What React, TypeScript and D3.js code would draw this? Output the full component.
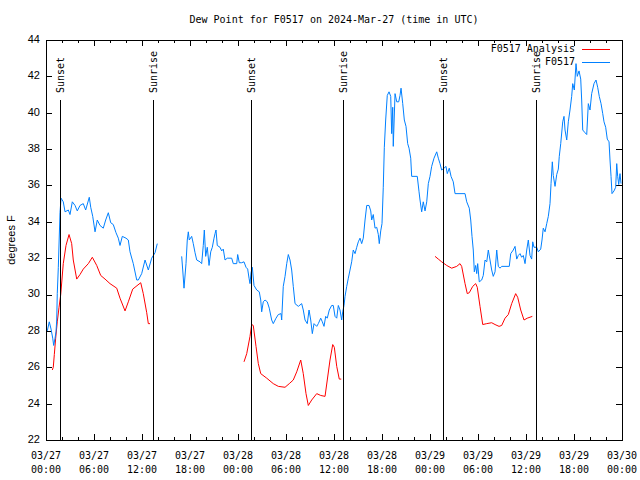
import React, { useEffect, useRef } from "react";
import * as d3 from "d3";

const chartTitle = "Dew Point for F0517 on 2024-Mar-27 (time in UTC)";
const yLabel = "degrees F";
const startTime = Date.UTC(2024, 2, 27, 0, 0);
const endTime = Date.UTC(2024, 2, 30, 0, 0);

const yTicks = [22, 24, 26, 28, 30, 32, 34, 36, 38, 40, 42, 44];

// [hours since 03/27 00:00 UTC, dew point in F]; null = missing data (breaks the line)
const observed: [number, number | null][] = [
  [0.16, 28.0], [0.41, 28.5], [0.63, 28.1], [0.84, 27.6], [0.96, 27.2], [1.13, 27.6],
  [1.25, 27.95], [1.34, 28.6], [1.41, 30.05], [1.54, 31.5], [1.75, 34.5], [1.88, 35.3],
  [2.16, 35.1], [2.38, 34.55], [2.79, 34.65], [3.0, 34.4], [3.29, 35.1], [3.63, 34.9],
  [3.91, 34.6], [4.25, 34.9], [4.66, 35.0], [4.96, 34.65], [5.41, 35.35], [5.59, 34.8],
  [5.84, 34.3], [6.13, 33.45], [6.41, 34.1], [6.75, 33.8], [7.16, 33.65], [7.46, 34.1],
  [7.79, 34.5], [8.09, 33.95], [8.41, 33.85], [8.75, 33.4], [9.04, 33.1], [9.25, 32.7],
  [9.54, 33.2], [10.0, 33.1], [10.29, 33.0], [10.5, 32.35], [10.91, 31.7], [11.34, 30.8],
  [11.54, 30.8], [11.96, 31.15], [12.38, 31.9], [12.79, 31.35], [13.21, 32.0], [13.63, 32.3],
  [13.91, 32.8], [15.0, null],
  [16.96, 32.1], [17.09, 31.35], [17.25, 30.35], [17.5, 31.7], [17.66, 33.0], [17.79, 33.45],
  [17.91, 33.0], [18.21, 33.2], [18.41, 32.8], [18.63, 32.3], [18.84, 31.9], [19.25, 31.8],
  [19.46, 31.7], [19.66, 32.7], [19.79, 33.55], [19.96, 32.1], [20.16, 32.6], [20.38, 31.6],
  [20.59, 32.35], [20.79, 32.6], [21.0, 33.1], [21.13, 33.35], [21.25, 33.55], [21.41, 32.7],
  [21.75, 32.6], [21.96, 32.4], [22.16, 32.5], [22.38, 31.9], [22.66, 32.0], [23.21, 32.0],
  [23.41, 31.7], [23.84, 31.7], [23.96, 32.2], [24.16, 31.75], [24.46, 31.75], [24.75, 31.8],
  [25.0, 31.5], [25.21, 31.4], [25.38, 30.9], [25.5, 30.6], [25.63, 31.2], [25.79, 31.5],
  [26.0, 30.5], [26.34, 30.25], [26.66, 30.15], [26.84, 29.7], [26.96, 29.05], [27.16, 29.6],
  [27.38, 29.7], [27.66, 29.6], [27.91, 29.25], [28.21, 28.6], [28.41, 28.4], [28.75, 28.7],
  [29.04, 28.9], [29.38, 28.95], [29.46, 28.6], [29.66, 30.45], [29.88, 31.0], [30.09, 31.7],
  [30.29, 32.2], [30.5, 31.9], [30.71, 31.35], [30.91, 30.45], [31.13, 29.5], [31.54, 29.35],
  [31.96, 29.5], [32.16, 29.15], [32.38, 28.6], [32.66, 28.4], [32.88, 29.15], [33.09, 28.6],
  [33.29, 27.85], [33.5, 28.4], [33.84, 28.25], [34.04, 28.4], [34.34, 28.7], [34.54, 28.5],
  [34.75, 28.25], [34.96, 28.8], [35.16, 28.7], [35.41, 29.15], [35.71, 29.4], [35.91, 29.4],
  [36.13, 28.8], [36.34, 28.7], [36.54, 29.4], [36.75, 29.15], [36.96, 28.6], [37.09, 29.05],
  [37.25, 29.4], [37.38, 29.9], [37.59, 30.45], [37.79, 30.9], [38.0, 31.35], [38.21, 31.8],
  [38.41, 32.45], [38.63, 32.25], [38.84, 32.6], [39.04, 32.9], [39.25, 33.1], [39.46, 32.8],
  [39.66, 33.1], [39.88, 34.1], [40.09, 34.9], [40.38, 34.9], [40.59, 34.6], [40.71, 34.1],
  [40.91, 34.4], [41.13, 33.65], [41.34, 33.7], [41.54, 33.3], [41.66, 32.8], [41.84, 33.5],
  [42.0, 33.9], [42.16, 35.9], [42.29, 38.1], [42.46, 39.6], [42.66, 40.95], [42.88, 41.15],
  [43.09, 40.9], [43.21, 38.85], [43.34, 40.3], [43.41, 38.15], [43.63, 41.05], [43.84, 40.6],
  [44.09, 40.6], [44.25, 40.95], [44.38, 41.35], [44.59, 40.5], [44.79, 39.6], [45.0, 39.25],
  [45.21, 38.3], [45.38, 38.05], [45.59, 37.5], [45.71, 36.5], [46.41, 36.5], [46.63, 35.65],
  [46.75, 35.2], [46.96, 34.55], [47.16, 35.1], [47.38, 34.6], [47.59, 35.1], [47.79, 36.1],
  [48.0, 36.5], [48.21, 37.05], [48.5, 37.5], [48.84, 37.85], [49.04, 37.5], [49.25, 37.2],
  [49.46, 36.85], [49.75, 36.95], [50.0, 37.05], [50.16, 36.65], [50.41, 36.95], [50.63, 36.5],
  [50.91, 36.2], [51.13, 35.55], [52.38, 35.55], [52.59, 35.1], [52.91, 34.75], [53.09, 34.1],
  [53.25, 33.2], [53.41, 32.45], [53.54, 31.25], [53.71, 31.6], [53.84, 31.15], [53.96, 31.7],
  [54.16, 30.7], [54.46, 30.8], [54.66, 31.05], [54.88, 31.9], [55.09, 31.8], [55.29, 32.45],
  [55.5, 31.9], [55.71, 31.35], [55.91, 31.0], [56.13, 31.25], [56.34, 32.45], [56.54, 31.55],
  [56.75, 31.45], [56.96, 31.55], [57.91, 31.55], [58.09, 32.25], [58.41, 32.45], [58.63, 32.65],
  [58.84, 31.95], [59.04, 32.15], [59.25, 32.25], [59.46, 32.05], [59.66, 32.15], [59.88, 31.7],
  [60.09, 32.45], [60.29, 33.0], [60.5, 32.15], [60.71, 31.95], [60.84, 32.9], [61.0, 32.6],
  [61.34, 32.6], [61.54, 32.35], [61.84, 32.5], [62.0, 33.0], [62.16, 33.65], [62.38, 33.45],
  [62.59, 33.9], [62.79, 34.3], [63.0, 35.0], [63.13, 36.1], [63.29, 37.3], [63.41, 36.55],
  [63.63, 35.95], [63.84, 36.6], [64.04, 36.9], [64.16, 37.6], [64.34, 38.3], [64.59, 39.5],
  [64.75, 39.8], [64.88, 39.05], [65.09, 38.5], [65.29, 39.5], [65.5, 40.15], [65.71, 40.9],
  [65.84, 41.6], [66.04, 41.25], [66.25, 42.7], [66.41, 42.0], [66.63, 42.3], [66.84, 41.85],
  [66.96, 40.7], [67.09, 39.05], [67.38, 38.9], [67.59, 38.8], [67.79, 40.5], [68.0, 40.15],
  [68.21, 41.05], [68.5, 41.6], [68.75, 41.8], [68.96, 41.4], [69.16, 40.9], [69.38, 40.5],
  [69.59, 39.95], [69.75, 39.5], [69.96, 39.2], [70.16, 38.55], [70.38, 38.4], [70.5, 37.4],
  [70.63, 36.5], [70.75, 35.55], [71.0, 35.7], [71.21, 35.9], [71.34, 37.2], [71.46, 36.5],
  [71.59, 36.05], [71.75, 36.65], [71.88, 36.1],
];

const analysis: [number, number | null][] = [
  [0.79, 25.85], [0.91, 26.0], [1.04, 26.7], [1.21, 27.6], [1.41, 28.5], [1.63, 29.3],
  [1.84, 30.0], [2.16, 31.7], [2.5, 32.7], [2.88, 33.3], [3.21, 32.8], [3.41, 31.9],
  [3.84, 30.85], [4.25, 31.1], [4.66, 31.4], [5.29, 31.7], [5.79, 32.05], [6.34, 31.6],
  [6.84, 31.05], [7.38, 30.85], [8.0, 30.6], [8.84, 30.35], [9.25, 29.8], [9.88, 29.1],
  [10.29, 29.6], [10.84, 30.3], [11.84, 30.65], [12.16, 30.05], [12.59, 29.0], [12.79, 28.4],
  [13.0, 28.4], [18.0, null],
  [24.75, 26.3], [25.09, 26.75], [25.5, 27.7], [25.71, 28.35], [25.91, 28.3], [26.25, 27.15],
  [26.54, 26.2], [26.84, 25.65], [27.59, 25.4], [28.41, 25.1], [29.04, 24.95], [29.88, 24.9],
  [30.41, 25.1], [30.91, 25.3], [31.34, 25.75], [31.84, 26.4], [32.16, 25.65], [32.5, 24.55],
  [32.79, 23.9], [33.21, 24.2], [33.84, 24.55], [34.34, 24.45], [34.88, 24.4], [35.16, 25.3],
  [35.5, 26.4], [35.84, 27.25], [36.04, 27.1], [36.34, 26.05], [36.66, 25.35], [36.91, 25.35],
  [42.0, null],
  [48.63, 32.1], [49.04, 31.95], [49.46, 31.8], [50.09, 31.6], [50.71, 31.45], [51.34, 31.55],
  [51.75, 31.7], [51.96, 31.55], [52.38, 30.6], [52.66, 30.05], [52.91, 30.1], [53.34, 30.45],
  [53.71, 30.6], [53.91, 30.4], [54.25, 29.35], [54.59, 28.35], [55.09, 28.4], [55.71, 28.45],
  [56.13, 28.35], [56.63, 28.25], [56.96, 28.3], [57.38, 28.7], [57.79, 28.9], [58.21, 29.5],
  [58.71, 30.05], [58.96, 29.85], [59.34, 29.15], [59.75, 28.6], [60.16, 28.7], [60.79, 28.8],
];

// sunset / sunrise markers, hours since start
const sunLabels = ["Sunset", "Sunrise", "Sunset", "Sunrise", "Sunset", "Sunrise"];
const sunHours = [1.81, 13.41, 25.59, 37.16, 49.66, 61.25];

const seriesNames = ["F0517 Analysis", "F0517"];
const seriesColors = ["#ff0000", "#0080ff"];

const toDate = (h: number) => new Date(startTime + h * 3600 * 1000);

const App: React.FC = () => {
  const svgRef = useRef<SVGSVGElement>(null);

  useEffect(() => {
    if (!svgRef.current) return;
    const svg = d3.select(svgRef.current);
    svg.selectAll("*").remove();

    const width = 640;
    const height = 480;
    const left = 46;
    const right = 622;
    const top = 40;
    const bottom = 440;
    const mono = "'DejaVu Sans Mono', monospace";
    const sans = "'Liberation Sans', Arial, sans-serif";

    svg.attr("width", width).attr("height", height);

    svg.append("rect").attr("width", width).attr("height", height).attr("fill", "white");

    const x = d3.scaleUtc().domain([new Date(startTime), new Date(endTime)]).range([left, right]);
    const y = d3.scaleLinear().domain([22, 44]).range([bottom, top]);

    // title, centred over the plot area
    svg
      .append("text")
      .attr("x", (left + right) / 2)
      .attr("y", 20)
      .attr("text-anchor", "middle")
      .attr("dominant-baseline", "middle")
      .style("font-family", mono)
      .style("font-size", "10px")
      .text(chartTitle);

    // y axis label
    svg
      .append("text")
      .attr("transform", `translate(12, 240) rotate(-90)`)
      .attr("text-anchor", "middle")
      .attr("dominant-baseline", "middle")
      .style("font-family", sans)
      .style("font-size", "11px")
      .text(yLabel);

    const ticks = svg.append("g").attr("stroke", "black").attr("shape-rendering", "crispEdges");

    // y ticks (mirrored on right)
    yTicks.forEach((v) => {
      const yy = Math.round(y(v)) + 0.5;
      ticks.append("line").attr("x1", left).attr("x2", left + 6).attr("y1", yy).attr("y2", yy);
      ticks.append("line").attr("x1", right - 6).attr("x2", right).attr("y1", yy).attr("y2", yy);
      svg
        .append("text")
        .attr("x", 40)
        .attr("y", y(v))
        .attr("text-anchor", "end")
        .attr("dominant-baseline", "middle")
        .style("font-family", sans)
        .style("font-size", "11px")
        .text(v);
    });

    // x ticks: major every 6h, minor every 2h (top and bottom)
    const minor = x.ticks(d3.utcHour.every(2)!);
    minor.forEach((d) => {
      const isMajor = d.getUTCHours() % 6 === 0;
      const len = isMajor ? 6 : 3;
      const xx = Math.round(x(d)) + 0.5;
      ticks.append("line").attr("x1", xx).attr("x2", xx).attr("y1", bottom).attr("y2", bottom - len);
      ticks.append("line").attr("x1", xx).attr("x2", xx).attr("y1", top).attr("y2", top + len);
    });

    const majors = x.ticks(d3.utcHour.every(6)!);
    const fmtDay = d3.utcFormat("%m/%d");
    const fmtHour = d3.utcFormat("%H:%M");
    majors.forEach((d) => {
      const t = svg
        .append("text")
        .attr("x", x(d))
        .attr("y", 455)
        .attr("text-anchor", "middle")
        .style("font-family", mono)
        .style("font-size", "10px");
      t.append("tspan").attr("x", x(d)).attr("dy", "0.35em").text(fmtDay(d));
      t.append("tspan").attr("x", x(d)).attr("dy", "14").text(fmtHour(d));
    });

    // data lines
    svg
      .append("clipPath")
      .attr("id", "plot-clip")
      .append("rect")
      .attr("x", left)
      .attr("y", top)
      .attr("width", right - left)
      .attr("height", bottom - top);

    const line = d3
      .line<[number, number | null]>()
      .defined((d) => d[1] != null)
      .x((d) => x(toDate(d[0])))
      .y((d) => y(d[1] as number));

    const plot = svg.append("g").attr("clip-path", "url(#plot-clip)");
    [analysis, observed].forEach((series, i) => {
      plot
        .append("path")
        .attr("d", line(series))
        .attr("fill", "none")
        .attr("stroke", seriesColors[i])
        .attr("stroke-width", 1);
    });

    // sunset / sunrise markers
    sunHours.forEach((h, i) => {
      const xx = Math.round(x(toDate(h))) + 0.5;
      svg
        .append("line")
        .attr("x1", xx)
        .attr("x2", xx)
        .attr("y1", 100)
        .attr("y2", bottom)
        .attr("stroke", "black")
        .attr("shape-rendering", "crispEdges");
      svg
        .append("text")
        .attr("transform", `translate(${xx}, 93) rotate(-90)`)
        .attr("text-anchor", "start")
        .attr("dominant-baseline", "middle")
        .style("font-family", mono)
        .style("font-size", "10px")
        .text(sunLabels[i]);
    });

    // frame
    svg
      .append("rect")
      .attr("x", left + 0.5)
      .attr("y", top + 0.5)
      .attr("width", right - left)
      .attr("height", bottom - top)
      .attr("fill", "none")
      .attr("stroke", "black")
      .attr("shape-rendering", "crispEdges");

    // legend
    seriesNames.forEach((name, i) => {
      const ly = 49 + i * 13;
      svg
        .append("text")
        .attr("x", 575)
        .attr("y", ly)
        .attr("text-anchor", "end")
        .attr("dominant-baseline", "middle")
        .style("font-family", mono)
        .style("font-size", "10px")
        .text(name);
      svg
        .append("line")
        .attr("x1", 582)
        .attr("x2", 610)
        .attr("y1", ly + 0.5)
        .attr("y2", ly + 0.5)
        .attr("stroke", seriesColors[i])
        .attr("shape-rendering", "crispEdges");
    });
  }, []);

  return (
    <div style={{ position: "absolute", left: 0, top: 0 }}>
      <svg ref={svgRef}></svg>
    </div>
  );
};

export default App;
